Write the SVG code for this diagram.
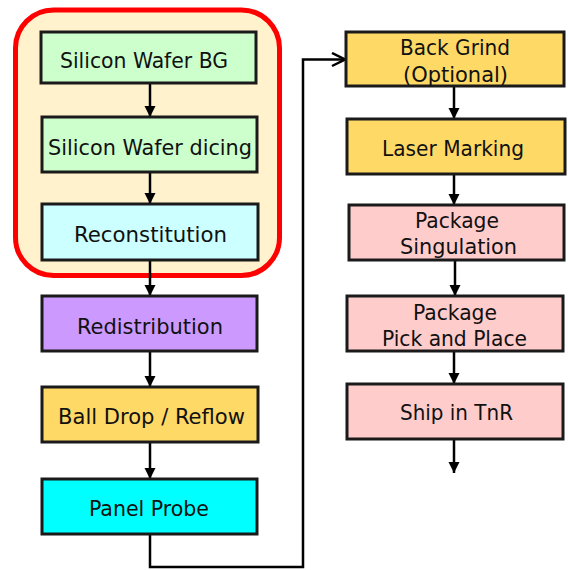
<svg xmlns="http://www.w3.org/2000/svg" width="568" height="570" viewBox="0 0 568 570">
<style>
.box{stroke:#1a1a1a;stroke-width:3}
.t{font-family:"DejaVu Sans Condensed","DejaVu Sans","Liberation Sans",sans-serif;font-stretch:condensed;font-size:22px;fill:#111;text-anchor:middle}
.c{fill:none;stroke:#000;stroke-width:2.5}
</style>
<defs>
<marker id="ah" markerUnits="userSpaceOnUse" markerWidth="12" markerHeight="12" refX="11" refY="5.5" orient="auto" viewBox="0 0 12 11">
<path d="M0,0 L11,5.5 L0,11 z" fill="#000"/>
</marker>
<marker id="oa" markerUnits="userSpaceOnUse" markerWidth="16" markerHeight="16" refX="14" refY="8" orient="auto" viewBox="0 0 16 16">
<path d="M1,1.5 L14,8 L1,14.5" fill="none" stroke="#000" stroke-width="2.5"/>
</marker>
</defs>
<rect id="group-wafer" x="15.5" y="10" width="264" height="265.5" rx="38" fill="#FFF2CC" stroke="#FF0000" stroke-width="5"/>
<g id="connectors">
<line class="c" x1="150" y1="83" x2="150" y2="117" marker-end="url(#ah)"/>
<line class="c" x1="150" y1="172" x2="150" y2="204" marker-end="url(#ah)"/>
<line class="c" x1="150" y1="260" x2="150" y2="296" marker-end="url(#ah)"/>
<line class="c" x1="150" y1="351" x2="150" y2="387" marker-end="url(#ah)"/>
<line class="c" x1="150" y1="442" x2="150" y2="479" marker-end="url(#ah)"/>
<path class="c" d="M150,534 V567 H303 V59.5 H345" marker-end="url(#oa)"/>
<line class="c" x1="454" y1="86" x2="454" y2="119" marker-end="url(#ah)"/>
<line class="c" x1="454" y1="174" x2="454" y2="205" marker-end="url(#ah)"/>
<line class="c" x1="455" y1="260" x2="455" y2="296" marker-end="url(#ah)"/>
<line class="c" x1="454" y1="351" x2="454" y2="384" marker-end="url(#ah)"/>
<line class="c" x1="454" y1="439" x2="454" y2="473" marker-end="url(#ah)"/>
</g>
<g id="n1"><rect class="box" x="41" y="32" width="215" height="51" fill="#CCFFCC"/><text class="t" x="144" y="67.5" textLength="168" lengthAdjust="spacingAndGlyphs">Silicon Wafer BG</text></g>
<g id="n2"><rect class="box" x="42" y="117" width="215" height="55" fill="#CCFFCC"/><text class="t" x="150" y="155" textLength="204" lengthAdjust="spacingAndGlyphs">Silicon Wafer dicing</text></g>
<g id="n3"><rect class="box" x="42" y="204" width="216" height="56" fill="#CCFFFF"/><text class="t" x="150.5" y="241.5" textLength="153" lengthAdjust="spacingAndGlyphs">Reconstitution</text></g>
<g id="n4"><rect class="box" x="42" y="296" width="215" height="55" fill="#CC99FF"/><text class="t" x="150" y="333.5" textLength="146" lengthAdjust="spacingAndGlyphs">Redistribution</text></g>
<g id="n5"><rect class="box" x="42" y="387" width="216" height="55" fill="#FFD966"/><text class="t" x="151.5" y="424" textLength="187" lengthAdjust="spacingAndGlyphs">Ball Drop / Reflow</text></g>
<g id="n6"><rect class="box" x="42" y="479" width="215" height="55" fill="#00FFFF"/><text class="t" x="149" y="515.5" textLength="120" lengthAdjust="spacingAndGlyphs">Panel Probe</text></g>
<g id="n7"><rect class="box" x="346" y="32" width="218" height="54" fill="#FFD966"/><text class="t" x="455" y="55" textLength="110" lengthAdjust="spacingAndGlyphs">Back Grind</text><text class="t" x="455.5" y="81.5" textLength="105" lengthAdjust="spacingAndGlyphs">(Optional)</text></g>
<g id="n8"><rect class="box" x="347" y="119" width="218" height="55" fill="#FFD966"/><text class="t" x="453" y="156" textLength="142" lengthAdjust="spacingAndGlyphs">Laser Marking</text></g>
<g id="n9"><rect class="box" x="349" y="205" width="215" height="55" fill="#FFCCCC"/><text class="t" x="457" y="227.5" textLength="84" lengthAdjust="spacingAndGlyphs">Package</text><text class="t" x="458.5" y="253.5" textLength="117" lengthAdjust="spacingAndGlyphs">Singulation</text></g>
<g id="n10"><rect class="box" x="347" y="296" width="216" height="55" fill="#FFCCCC"/><text class="t" x="455" y="319.5" textLength="84" lengthAdjust="spacingAndGlyphs">Package</text><text class="t" x="454.5" y="346" textLength="145" lengthAdjust="spacingAndGlyphs">Pick and Place</text></g>
<g id="n11"><rect class="box" x="347" y="384" width="216" height="55" fill="#FFCCCC"/><text class="t" x="456.5" y="420" textLength="113" lengthAdjust="spacingAndGlyphs">Ship in TnR</text></g>
</svg>
